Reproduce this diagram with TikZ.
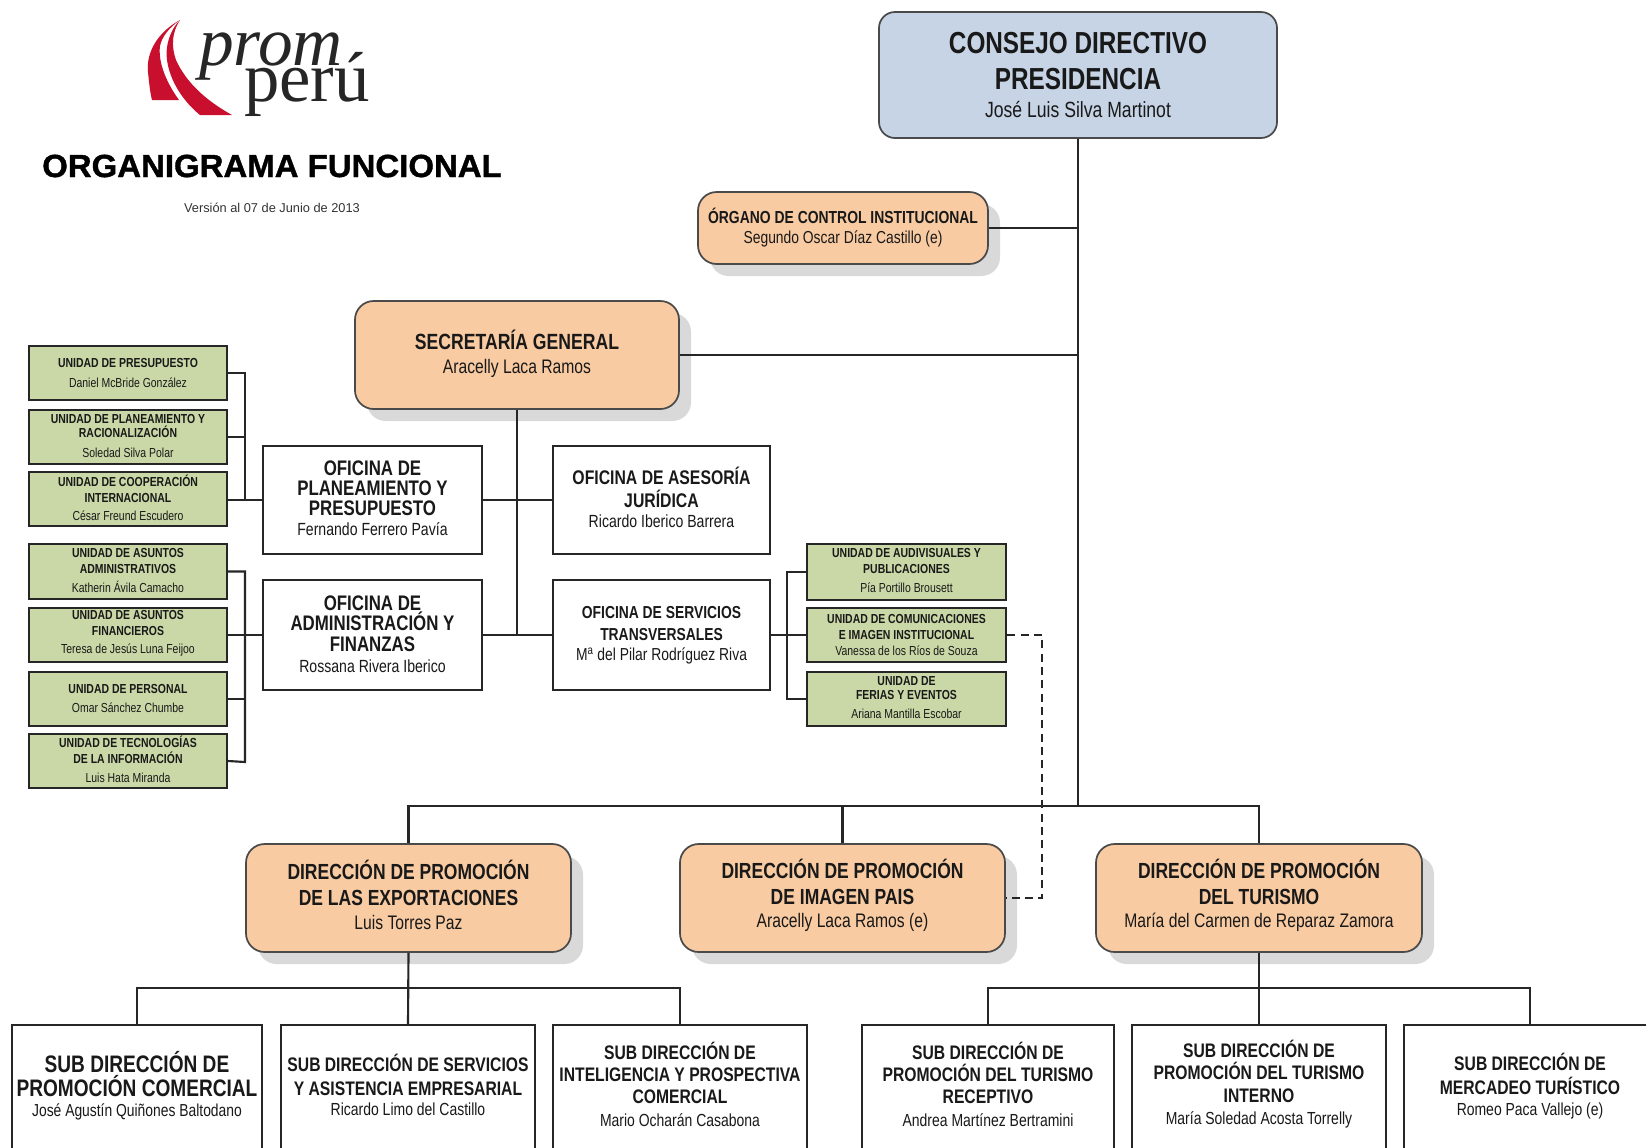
\documentclass[tikz,border=0pt]{standalone}
\usepackage{fontspec}
\usetikzlibrary{shadows}
\setmainfont{Liberation Sans}
\newfontfamily\fN[FakeStretch=.8]{Liberation Sans}
\newfontfamily\fW[FakeBold=1.2,FakeStretch=1.03]{Liberation Sans Bold}
\newfontfamily\fS{Liberation Serif}
\definecolor{lineC}{HTML}{262626}
\definecolor{softC}{HTML}{4A4A4A}
\definecolor{blueC}{HTML}{C6D4E6}
\definecolor{peachC}{HTML}{F9CBA2}
\definecolor{greenC}{HTML}{C9D8A6}
\definecolor{redC}{HTML}{C8102E}
\newcommand\sz[2]{\fontsize{#1}{#2}\selectfont}
\newcommand\nm[2]{\sz{#1}{#2}\mdseries}
% name, style, x1, y1, x2, y2, text centre y, title size, title leading, then text
\newcommand\mkbox[9]{%
  \node[#2,minimum width={((#5)-(#3))*.75pt},minimum height={((#6)-(#4))*.75pt}] (#1) at ({((#3)+(#5))/2},{((#4)+(#6))/2}) {};
  \mkboxB{#1}{#3}{#5}{#7}{#8}{#9}}
\newcommand\mkboxB[7]{%
  \node[txt,font=\fN\bfseries\sz{#5}{#6}] (#1T) at ({((#2)+(#3))/2},#4) {#7};}
\tikzset{
  x=.75pt,y=-.75pt,
  txt/.style={align=center,inner sep=0pt,text=black!90},
  wire/.style={draw=lineC,line width=1.6pt},
  dashwire/.style={draw=lineC,line width=1.4pt,dash pattern=on 6pt off 4pt},
  plain/.style={draw=lineC,line width=1.6pt,fill=white,inner sep=0pt},
  unitbox/.style={draw=lineC,line width=1.8pt,fill=greenC,inner sep=0pt},
  topbox/.style={draw=softC,line width=1.3pt,fill=blueC,rounded corners=12pt,inner sep=0pt},
  orbox/.style={draw=softC,line width=1.3pt,fill=peachC,rounded corners=14pt,inner sep=0pt,
    drop shadow={shadow xshift=9pt,shadow yshift=-9pt,fill=black!15,opacity=1}},
}
\begin{document}
\begin{tikzpicture}
\path[use as bounding box,clip] (0,0) rectangle (1646,1147);
\fill[white] (0,0) rectangle (1646,1147);
% logo
\fill[redC] (180,20) .. controls (158,32) and (146,52) .. (148,72) .. controls (149,82) and (150,92) .. (152,100) -- (179,100) .. controls (166,82) and (158,62) .. (160,46) .. controls (162,36) and (170,27) .. (180,20) -- cycle;
\fill[redC] (180,20) .. controls (170,30) and (165,46) .. (167,60) .. controls (170,82) and (184,102) .. (200,115) -- (232,115) .. controls (205,100) and (186,82) .. (176,60) .. controls (171,46) and (172,32) .. (180,20) -- cycle;
\node[anchor=base,inner sep=0pt,font=\fS\itshape\sz{52}{52},text=black!85] (logoA) at (271,65) {prom};
\node[anchor=base,inner sep=0pt,font=\fS\sz{53}{53},text=black!85] (logoB) at (307,101) {perú};
\node[inner sep=0pt,font=\fW\sz{24}{24}] (title) at (272,166) {ORGANIGRAMA FUNCIONAL};
\node[inner sep=0pt,font=\sz{9.6}{10},text=black!80] (version) at (272,208) {Versión al 07 de Junio de 2013};

% boxes
\mkbox{consejo}{topbox}{879}{12}{1277}{138}{74.6}{22.8}{27.5}{CONSEJO DIRECTIVO\\PRESIDENCIA\\[-7pt]\nm{16.5}{20}José Luis Silva Martinot}
\mkbox{oci}{orbox}{698}{192}{988}{264}{228}{13.05}{18}{ÓRGANO DE CONTROL INSTITUCIONAL\\[-3pt]\nm{13}{16}Segundo Oscar Díaz Castillo (e)}
\mkbox{sec}{orbox}{355}{301}{679}{409}{354}{16.5}{19}{SECRETARÍA GENERAL\\[-1pt]\nm{14.7}{18}Aracelly Laca Ramos}

\mkbox{pp}{plain}{263}{446}{482}{554}{498.5}{15.8}{15}{OFICINA DE\\PLANEAMIENTO Y\\PRESUPUESTO\\[0pt]\nm{13.2}{16}Fernando Ferrero Pavía}
\mkbox{af}{plain}{263}{580}{482}{690}{634}{15.8}{15.5}{OFICINA DE\\ADMINISTRACIÓN Y\\FINANZAS\\[0pt]\nm{13.2}{16}Rossana Rivera Iberico}
\mkbox{as}{plain}{553}{446}{770}{554}{497}{14.8}{17.5}{OFICINA DE ASESORÍA\\JURÍDICA\\[-3pt]\nm{13.2}{16}Ricardo Iberico Barrera}
\mkbox{sv}{plain}{553}{580}{770}{690}{635.5}{13}{16.5}{OFICINA DE SERVICIOS\\TRANSVERSALES\\[-1.5pt]\nm{13}{16}M\textsuperscript{a} del Pilar Rodríguez Riva}

\mkbox{ga}{unitbox}{29}{346}{227}{400}{373}{9.8}{15.5}{UNIDAD DE PRESUPUESTO\\\nm{9.8}{15}Daniel McBride González}
\mkbox{gb}{unitbox}{29}{410}{227}{464}{436}{9.8}{10.8}{UNIDAD DE PLANEAMIENTO Y\\RACIONALIZACIÓN\\[4pt]\nm{9.8}{10.5}Soledad Silva Polar}
\mkbox{gc}{unitbox}{29}{472}{227}{526}{497.5}{9.8}{12}{UNIDAD DE COOPERACIÓN\\INTERNACIONAL\\[1.5pt]\nm{9.8}{13}César Freund Escudero}
\mkbox{gd}{unitbox}{29}{544}{227}{599}{570.5}{9.8}{12}{UNIDAD DE ASUNTOS\\ADMINISTRATIVOS\\[2.5pt]\nm{9.8}{13}Katherin Ávila Camacho}
\mkbox{ge}{unitbox}{29}{608}{227}{662}{633.5}{9.8}{12}{UNIDAD DE ASUNTOS\\FINANCIEROS\\[1.5pt]\nm{9.8}{13}Teresa de Jesús Luna Feijoo}
\mkbox{gf}{unitbox}{29}{672}{227}{726}{698.5}{9.8}{14.5}{UNIDAD DE PERSONAL\\\nm{9.8}{14}Omar Sánchez Chumbe}
\mkbox{gg}{unitbox}{29}{734}{227}{788}{759}{9.8}{12}{UNIDAD DE TECNOLOGÍAS\\DE LA INFORMACIÓN\\[2.5pt]\nm{9.8}{13}Luis Hata Miranda}
\mkbox{gh}{unitbox}{807}{544}{1006}{600}{570.5}{9.8}{12}{UNIDAD DE AUDIVISUALES Y\\PUBLICACIONES\\[2.5pt]\nm{9.8}{13}Pía Portillo Brousett}
\mkbox{gi}{unitbox}{807}{608}{1006}{662}{635}{9.8}{12}{UNIDAD DE COMUNICACIONES\\E IMAGEN INSTITUCIONAL\\\nm{9.8}{12}Vanessa de los Ríos de Souza}
\mkbox{gj}{unitbox}{807}{672}{1006}{726}{697.5}{9.8}{10.5}{UNIDAD DE\\FERIAS Y EVENTOS\\[3.5pt]\nm{9.8}{10.5}Ariana Mantilla Escobar}

\mkbox{da}{orbox}{246}{844}{571}{952}{895}{16.4}{19.5}{DIRECCIÓN DE PROMOCIÓN\\DE LAS EXPORTACIONES\\[-2pt]\nm{14.7}{18}Luis Torres Paz}
\mkbox{db}{orbox}{680}{844}{1005}{952}{895}{16.4}{19.5}{DIRECCIÓN DE PROMOCIÓN\\DE IMAGEN PAIS\\[-2pt]\nm{14.7}{18}Aracelly Laca Ramos (e)}
\mkbox{dc}{orbox}{1096}{844}{1422}{952}{895}{16.4}{19.5}{DIRECCIÓN DE PROMOCIÓN\\DEL TURISMO\\[-2pt]\nm{14.7}{18}María del Carmen de Reparaz Zamora}

\mkbox{sa}{plain}{12}{1025}{262}{1170}{1085.5}{17.9}{18}{SUB DIRECCIÓN DE\\PROMOCIÓN COMERCIAL\\[-3pt]\nm{13}{16}José Agustín Quiñones Baltodano}
\mkbox{sb}{plain}{281}{1025}{535}{1170}{1085}{14.7}{18}{SUB DIRECCIÓN DE SERVICIOS\\Y ASISTENCIA EMPRESARIAL\\[-2.5pt]\nm{13.1}{16}Ricardo Limo del Castillo}
\mkbox{sc}{plain}{553}{1025}{807}{1170}{1084}{14.7}{16.7}{SUB DIRECCIÓN DE\\INTELIGENCIA Y PROSPECTIVA\\COMERCIAL\\[0pt]\nm{13.1}{16}Mario Ocharán Casabona}
\mkbox{sd}{plain}{862}{1025}{1114}{1170}{1084}{14.7}{16.7}{SUB DIRECCIÓN DE\\PROMOCIÓN DEL TURISMO\\RECEPTIVO\\[0pt]\nm{13.1}{16}Andrea Martínez Bertramini}
\mkbox{se}{plain}{1132}{1025}{1386}{1170}{1084}{14.7}{16.7}{SUB DIRECCIÓN DE\\PROMOCIÓN DEL TURISMO\\INTERNO\\[0pt]\nm{13.1}{16}María Soledad Acosta Torrelly}
\mkbox{sf}{plain}{1404}{1025}{1656}{1170}{1086}{14.7}{18}{SUB DIRECCIÓN DE\\MERCADEO TURÍSTICO\\[-2.5pt]\nm{13.1}{16}Romeo Paca Vallejo (e)}

% connector points
\coordinate (mainBus) at (1078,806);
\coordinate (officeEnd) at (517,636);
\coordinate (leftA) at (245,500);
\coordinate (leftBend) at (245,762);
\coordinate (rightBusEnd) at (787,699);
\coordinate (dashTurn) at (1042,635);
\coordinate (subBusL) at (409,988);
\coordinate (subBusR) at (1259,988);

% connectors
\draw[wire] (consejo.south) -- (mainBus);
\draw[wire] (oci.east) -- (oci.east -| mainBus);
\draw[wire] (sec.east) -- (sec.east -| mainBus);
\draw[wire] (sec.south) -- (officeEnd);
\draw[wire] (pp.east) -- (as.west);
\draw[wire] (af.east) -- (sv.west);
\draw[wire] (pp.west) -- (gc.east |- pp.west);
\draw[wire] (ga.east) -| (leftA);
\draw[wire] (gb.east) -- (gb.east -| leftA);
\draw[wire] (gd.east) -| (leftBend) -- (gg.east);
\draw[wire] (af.west) -- (ge.east |- af.west);
\draw[wire] (gf.east) -- (gf.east -| leftA);
\draw[wire] (sv.east) -- (gi.west |- sv.east);
\draw[wire] (gh.west) -| (rightBusEnd) -- (gj.west);
\draw[wire] (da.north) |- (mainBus);
\draw[wire] (db.north) -- (db.north |- mainBus);
\draw[wire] (dc.north) |- (mainBus);
\draw[wire] (da.south) -- (sb.north);
\draw[wire] (sa.north) |- (subBusL) -| (sc.north);
\draw[wire] (dc.south) -- (se.north);
\draw[wire] (sd.north) |- (subBusR) -| (sf.north);
\draw[dashwire] (gi.east) -- (dashTurn) |- (db.east);
\end{tikzpicture}
\end{document}
